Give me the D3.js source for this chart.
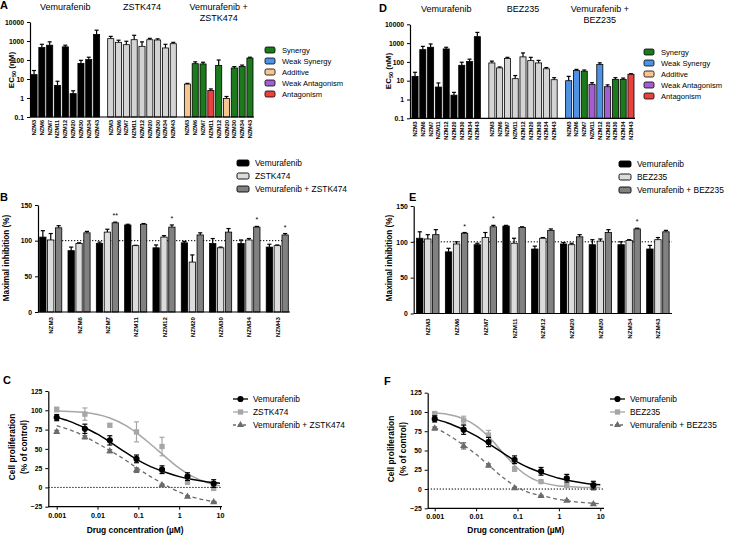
<!DOCTYPE html>
<html><head><meta charset="utf-8">
<script src="https://cdn.jsdelivr.net/npm/d3@7"></script>
<style>
body{margin:0;background:#fff}
svg{display:block}
</style></head><body>
<svg id="chart" width="734" height="538"></svg>
<script>
// ---------------- DATA ----------------
const cellLines = ["NZM3","NZM6","NZM7","NZM11","NZM12","NZM20","NZM30","NZM34","NZM43"];

// EC50 (nM) – panels A and D
const ec50Vemurafenib   = [17, 450, 600, 4.6, 490, 1.7, 66, 105, 2200];
const ec50VemurafenibSD = [11, 220, 300, 3, 110, 0.7, 30, 35, 1500];
const ec50Zstk474       = [1330, 850, 640, 1170, 525, 1170, 1130, 430, 720];
const ec50Zstk474SD     = [420, 250, 330, 830, 375, 210, 170, 240, 130];
const ec50ComboZ        = [5.4, 64, 62, 2.5, 52, 0.95, 38, 46, 127];
const ec50ComboZSD      = [0.5, 16, 14, 0.5, 48, 0.25, 7, 8, 13];
const ec50ComboZClass   = ["Additive","Synergy","Synergy","Antagonism","Synergy","Additive","Synergy","Synergy","Synergy"];
const ec50Bez235        = [88, 48, 150, 12.8, 185, 117, 88, 43, 11.3];
const ec50Bez235SD      = [22, 6, 25, 6, 115, 58, 32, 7, 3.2];
const ec50ComboB        = [10, 35, 32, 6.4, 72, 4.8, 11.8, 11.8, 22];
const ec50ComboBSD      = [7, 5, 5, 1.4, 17, 1.2, 2.7, 2, 1.5];
const ec50ComboBClass   = ["Weak Synergy","Weak Synergy","Synergy","Weak Antagonism","Weak Synergy","Weak Antagonism","Synergy","Synergy","Antagonism"];
const interactionClasses = ["Synergy","Weak Synergy","Additive","Weak Antagonism","Antagonism"];
const ec50Ticks = [0.1, 1, 10, 100, 1000, 10000];
const ec50TickLabels = ["0.1","1","10","100","1000","10000"];

// Maximal inhibition (%) – panels B and E
const miVemurafenib   = [105, 86, 96, 122, 90, 97, 96, 96, 91];
const miVemurafenibSD = [9, 5, 2, 1, 4, 2, 7, 5, 4];
const miZstk474       = [101, 96, 112, 93, 105, 70, 90, 101, 93];
const miZstk474SD     = [9, 1, 4, 0.5, 2, 10, 1, 2, 1];
const miComboZ        = [118, 111, 125, 123, 119, 108, 112, 119, 108];
const miComboZSD      = [3, 2, 1, 1, 3, 3, 5, 1, 2];
const miStarsZ        = ["", "", "**", "", "*", "", "", "*", "*"];
const miVemurafenibE  = [105, 86, 96, 122, 90, 97, 96, 96, 90];
const miVemurafenibESD= [9, 5, 2, 1, 4, 2, 7, 4, 5];
const miBez235        = [104, 97, 106, 98, 105, 96, 101, 102, 103];
const miBez235SD      = [6, 3, 7, 7, 1, 2, 3, 1, 3];
const miComboB        = [110, 112, 121, 120, 116, 107, 113, 118, 114];
const miComboBSD      = [7, 1, 2, 1, 2, 3, 4, 1, 2];
const miStarsB        = ["", "*", "*", "", "", "", "", "*", ""];
const miTicks = [0, 50, 100, 150];

// Cell proliferation (% of control) – panels C and F
const concC = [0.001, 0.0049, 0.02, 0.09, 0.38, 1.6, 7];
const concF = [0.001, 0.005, 0.02, 0.085, 0.37, 1.55, 6.8];
const cpVemurafenib   = [90.5, 76, 61, 37, 23, 14, 5];
const cpVemurafenibSD = [4, 6, 6, 5, 5, 5, 5];
const cpZstk474       = [101, 95, 80.6, 72, 53, 7, -1];
const cpZstk474SD     = [3, 8, 2, 13, 12, 3, 3];
const cpComboZ        = [72, 65, 47, 22.4, 3, -12, -19];
const cpComboZSD      = [2, 2, 2, 3, 1, 1, 1];
const cpVemurafenibF  = [91, 77, 61, 38, 23, 14, 5];
const cpBez235        = [98, 89.5, 70, 26, 9.6, 4.4, 1];
const cpBez235SD      = [2, 5, 6, 3, 1, 1, 1];
const cpComboB        = [78.6, 56, 30.6, 1, -9, -15, -19.6];
const cpComboBSD      = [2, 4, 2, 1, 1, 1, 1];
// fitted curves at these concentrations
const fitConc         = [0.001, 0.002, 0.005, 0.01, 0.02, 0.05, 0.1, 0.2, 0.5, 1, 2, 5, 10];
const fitVemurafenib  = [91, 86, 77, 69, 59, 45, 35, 27, 19, 14, 10.5, 7, 5.5];
const fitZstk474      = [99, 98.5, 97, 94.5, 90, 80, 69, 56, 38, 25, 15, 6, 2];
const fitComboZ       = [80, 75, 66, 57, 48, 35, 24, 14, 2, -6, -12, -17, -20];
const fitBez235       = [98.5, 97, 91, 82, 68, 44, 27, 15, 7, 4, 3, 2, 2];
const fitComboB       = [80, 71, 57, 45, 31, 13, 2, -5, -10, -13.5, -16, -18, -19];
const cpYTicks = [-25, 0, 25, 50, 75, 100, 125];
const cpXTicks = [0.001, 0.01, 0.1, 1, 10];
const cpXTickLabels = ["0.001","0.01","0.1","1","10"];

// ---------------- STYLE ----------------
const FF = '"Liberation Sans", Arial, Helvetica, sans-serif';
const classColor = {"Synergy":"#1c7a1c","Weak Synergy":"#4d92e3","Additive":"#f7c590","Weak Antagonism":"#a45ed2","Antagonism":"#e8423f"};
const svg = d3.select("#chart");

function styleAxis(sel, fs) {
  sel.attr("font-family", FF).attr("font-size", fs);
  sel.selectAll("path.domain").attr("stroke","#000").attr("stroke-width",1.2);
  sel.selectAll(".tick line").attr("stroke","#000").attr("stroke-width",1);
  sel.selectAll(".tick text").attr("font-weight","bold").attr("fill","#000");
}
function letter(t, x, y) {
  svg.append("text").attr("x",x).attr("y",y).attr("font-family",FF).attr("font-size",11)
    .attr("font-weight","bold").text(t);
}
function rotLabel(lines, x, yc, fs) {
  lines.forEach((l,k)=>{
    const t = svg.append("text").attr("transform",`translate(${x[k]},${yc}) rotate(-90)`)
      .attr("text-anchor","middle").attr("font-family",FF).attr("font-size",fs).attr("font-weight","bold");
    if (typeof l === "string") t.text(l);
    else l(t);
  });
}

// ---------------- EC50 PANELS ----------------
function ec50Panel(o) {
  const g = svg.append("g");
  const y = d3.scaleLog().domain([0.1,10000]).range([o.yBot,o.yTop]);
  const outer = d3.scaleBand().domain(d3.range(o.groups.length)).range([o.x0,o.x1]).paddingInner(o.gap);
  const inner = d3.scaleBand().domain(cellLines).range([0,outer.bandwidth()]).paddingInner(0.22);
  o.groups.forEach((grp,gi)=>{
    const gx = outer(gi);
    const gg = g.append("g").attr("transform",`translate(${gx},0)`);
    const rows = cellLines.map((c,i)=>({c, v:grp.values[i], sd:grp.sd[i], fill:grp.fill(i)}));
    const cx = d => inner(d.c)+inner.bandwidth()/2;
    const cw = inner.bandwidth()*0.33;
    gg.selectAll("line.ev").data(rows).join("line").attr("class","ev")
      .attr("x1",cx).attr("x2",cx).attr("y1",d=>y(d.v)).attr("y2",d=>y(d.v+d.sd))
      .attr("stroke","#000").attr("stroke-width",1.2);
    gg.selectAll("line.ec").data(rows).join("line").attr("class","ec")
      .attr("x1",d=>cx(d)-cw).attr("x2",d=>cx(d)+cw).attr("y1",d=>y(d.v+d.sd)).attr("y2",d=>y(d.v+d.sd))
      .attr("stroke","#000").attr("stroke-width",1.2);
    gg.selectAll("rect").data(rows).join("rect")
      .attr("x",d=>inner(d.c)).attr("width",inner.bandwidth())
      .attr("y",d=>y(d.v)).attr("height",d=>o.yBot-y(d.v))
      .attr("fill",d=>d.fill).attr("stroke","#000").attr("stroke-width",0.8);
    gg.selectAll("text.tl").data(cellLines).join("text").attr("class","tl")
      .attr("transform",d=>`translate(${inner(d)+inner.bandwidth()/2+2},${o.yBot+3}) rotate(-90)`)
      .attr("text-anchor","end").attr("font-size",5.6).attr("font-weight","bold")
      .attr("font-family",FF).text(d=>d);
    grp.title.forEach((t,k)=>g.append("text").attr("x",gx+outer.bandwidth()/2).attr("y",o.titleY+k*10.5)
      .attr("text-anchor","middle").attr("font-size",9).attr("font-family",FF).text(t));
  });
  const ya = g.append("g").attr("transform",`translate(${o.axisX},0)`)
    .call(d3.axisLeft(y).tickValues(ec50Ticks).tickFormat((d,i)=>ec50TickLabels[i]).tickSize(3).tickSizeOuter(0));
  styleAxis(ya, 6.8);
  g.append("line").attr("x1",o.axisX).attr("x2",o.x1+1).attr("y1",o.yBot).attr("y2",o.yBot)
    .attr("stroke","#000").attr("stroke-width",1.2);
  // legend
  const lg = g.append("g").attr("transform",`translate(${o.legendX},${o.legendY})`);
  interactionClasses.forEach((c,i)=>{
    lg.append("rect").attr("x",0).attr("y",i*11-3).attr("width",10).attr("height",6).attr("rx",1.5)
      .attr("fill",classColor[c]).attr("stroke","#000").attr("stroke-width",0.8);
    lg.append("text").attr("x",17).attr("y",i*11+3).attr("font-size",7.6).attr("font-family",FF).text(c);
  });
}

ec50Panel({x0:31, x1:253, gap:0.105, axisX:30, yTop:22, yBot:117, titleY:10, legendX:265, legendY:50,
  groups:[
    {title:["Vemurafenib"], values:ec50Vemurafenib, sd:ec50VemurafenibSD, fill:()=>"#000"},
    {title:["ZSTK474"], values:ec50Zstk474, sd:ec50Zstk474SD, fill:()=>"#d4d4d4"},
    {title:["Vemurafenib +","ZSTK474"], values:ec50ComboZ, sd:ec50ComboZSD, fill:i=>classColor[ec50ComboZClass[i]]}
  ]});
ec50Panel({x0:412, x1:634, gap:0.11, axisX:410, yTop:24.3, yBot:118.3, titleY:12, legendX:644, legendY:52,
  groups:[
    {title:["Vemurafenib"], values:ec50Vemurafenib, sd:ec50VemurafenibSD, fill:()=>"#000"},
    {title:["BEZ235"], values:ec50Bez235, sd:ec50Bez235SD, fill:()=>"#d4d4d4"},
    {title:["Vemurafenib +","BEZ235"], values:ec50ComboB, sd:ec50ComboBSD, fill:i=>classColor[ec50ComboBClass[i]]}
  ]});
letter("A", 0, 9); letter("D", 379, 12);
const ecLabel = t => { t.text("EC"); t.append("tspan").attr("font-size",5.5).attr("dy",2).text("50");
  t.append("tspan").attr("dy",-2).text(" (nM)"); };
rotLabel([ecLabel], [14], 70, 8);
rotLabel([ecLabel], [391], 71, 8);

// ---------------- MAXIMAL INHIBITION PANELS ----------------
function miPanel(o) {
  const g = svg.append("g");
  const y = d3.scaleLinear().domain([0,150]).range([o.yBot,o.yTop]);
  const outer = d3.scaleBand().domain(cellLines).range([o.x0,o.x1]).paddingInner(0.22).paddingOuter(o.po);
  const inner = d3.scaleBand().domain([0,1,2]).range([0,outer.bandwidth()]).paddingInner(0.2);
  // dotted reference at 100
  g.append("line").attr("x1",o.x0).attr("x2",o.x1).attr("y1",y(100)).attr("y2",y(100))
    .attr("stroke","#000").attr("stroke-width",1).attr("stroke-dasharray","1.3,1.7");
  const rows = [];
  cellLines.forEach((c,i)=>o.series.forEach((s,k)=>rows.push({c,k,v:s.values[i],sd:s.sd[i],fill:s.fill})));
  const bx = d => outer(d.c)+inner(d.k);
  const cx = d => bx(d)+inner.bandwidth()/2;
  const cw = inner.bandwidth()*0.33;
  g.selectAll("line.ev").data(rows).join("line").attr("class","ev")
    .attr("x1",cx).attr("x2",cx).attr("y1",d=>y(d.v)).attr("y2",d=>y(d.v+d.sd))
    .attr("stroke","#000").attr("stroke-width",1.2);
  g.selectAll("line.ec").data(rows).join("line").attr("class","ec")
    .attr("x1",d=>cx(d)-cw).attr("x2",d=>cx(d)+cw).attr("y1",d=>y(d.v+d.sd)).attr("y2",d=>y(d.v+d.sd))
    .attr("stroke","#000").attr("stroke-width",1.2);
  g.selectAll("rect.bar").data(rows).join("rect").attr("class","bar")
    .attr("x",bx).attr("width",inner.bandwidth()).attr("y",d=>y(d.v)).attr("height",d=>o.yBot-y(d.v))
    .attr("fill",d=>d.fill).attr("stroke","#000").attr("stroke-width",0.8);
  // stars
  const last = o.series[2];
  g.selectAll("text.star").data(cellLines).join("text").attr("class","star")
    .attr("x",c=>outer(c)+inner(2)+inner.bandwidth()/2)
    .attr("y",(c,i)=>y(last.values[i]+last.sd[i])-4)
    .attr("text-anchor","middle").attr("font-size",7).attr("font-family",FF)
    .text((c,i)=>o.stars[i]);
  const ya = g.append("g").attr("transform",`translate(${o.axisX},0)`)
    .call(d3.axisLeft(y).tickValues(miTicks).tickSize(3).tickSizeOuter(0));
  styleAxis(ya, 6.8);
  g.append("line").attr("x1",o.axisX).attr("x2",o.x1).attr("y1",o.yBot).attr("y2",o.yBot)
    .attr("stroke","#000").attr("stroke-width",1.2);
  g.selectAll("text.tl").data(cellLines).join("text").attr("class","tl")
    .attr("transform",c=>`translate(${outer(c)+outer.bandwidth()/2+2.5},${o.yBot+5}) rotate(-90)`)
    .attr("text-anchor","end").attr("font-size",6.2).attr("font-weight","bold").attr("font-family",FF)
    .text(c=>c);
  const lg = g.append("g").attr("transform",`translate(${o.legendX},${o.legendY})`);
  o.series.forEach((s,i)=>{
    lg.append("rect").attr("x",0).attr("y",i*13-3).attr("width",12).attr("height",6).attr("rx",1.5)
      .attr("fill",s.fill).attr("stroke","#000").attr("stroke-width",0.9);
    lg.append("text").attr("x",18).attr("y",i*13+3).attr("font-size",8.4).attr("font-family",FF).text(s.name);
  });
}
miPanel({x0:38, x1:290, po:0.06, axisX:38, yTop:205, yBot:312, legendX:237, legendY:163, stars:miStarsZ,
  series:[
    {name:"Vemurafenib", values:miVemurafenib, sd:miVemurafenibSD, fill:"#000"},
    {name:"ZSTK474", values:miZstk474, sd:miZstk474SD, fill:"#dcdcdc"},
    {name:"Vemurafenib + ZSTK474", values:miComboZ, sd:miComboZSD, fill:"#818181"}
  ]});
miPanel({x0:413.7, x1:672, po:0.1, axisX:413.7, yTop:206, yBot:313.5, legendX:619, legendY:164, stars:miStarsB,
  series:[
    {name:"Vemurafenib", values:miVemurafenibE, sd:miVemurafenibESD, fill:"#000"},
    {name:"BEZ235", values:miBez235, sd:miBez235SD, fill:"#dcdcdc"},
    {name:"Vemurafenib + BEZ235", values:miComboB, sd:miComboBSD, fill:"#818181"}
  ]});
letter("B", 0, 201); letter("E", 409, 201);
rotLabel(["Maximal inhibition (%)"], [9], 258, 8.2);
rotLabel(["Maximal inhibition (%)"], [392], 258, 8.2);

// ---------------- CELL PROLIFERATION PANELS ----------------
function cpPanel(o) {
  const g = svg.append("g");
  const x = d3.scaleLog().domain([0.001,10]).range([o.x0,o.x1]);
  const y = d3.scaleLinear().domain([-25,125]).range([o.yBot,o.yTop]);
  g.append("line").attr("x1",o.axisX).attr("x2",o.xEnd).attr("y1",y(0)).attr("y2",y(0))
    .attr("stroke","#000").attr("stroke-width",1).attr("stroke-dasharray","1.3,1.7");
  const line = d3.line().x(d=>x(d[0])).y(d=>y(d[1])).curve(d3.curveMonotoneX);
  const sym = {circle:d3.symbolCircle, square:d3.symbolSquare, triangle:d3.symbolTriangle};
  const symSize = {circle:30, square:28, triangle:22};
  o.series.slice().reverse().forEach(s=>{
    g.append("path").datum(fitConc.map((c,i)=>[c,s.fit[i]])).attr("d",line)
      .attr("fill","none").attr("stroke",s.color).attr("stroke-width",s.dash?1.3:1.5)
      .attr("stroke-dasharray",s.dash?"4,3":null);
  });
  o.series.slice().reverse().forEach(s=>{
    const pts = o.conc.map((c,i)=>({c, v:s.values[i], sd:s.sd[i]}));
    g.selectAll(null).data(pts).join("line")
      .attr("x1",d=>x(d.c)).attr("x2",d=>x(d.c)).attr("y1",d=>y(d.v-d.sd)).attr("y2",d=>y(d.v+d.sd))
      .attr("stroke",s.color).attr("stroke-width",1.2);
    [-1,1].forEach(sg=>g.selectAll(null).data(pts).join("line")
      .attr("x1",d=>x(d.c)-2.5).attr("x2",d=>x(d.c)+2.5).attr("y1",d=>y(d.v+sg*d.sd)).attr("y2",d=>y(d.v+sg*d.sd))
      .attr("stroke",s.color).attr("stroke-width",1.2));
    g.selectAll(null).data(pts).join("path")
      .attr("transform",d=>`translate(${x(d.c)},${y(d.v)})`)
      .attr("d",d3.symbol(sym[s.marker],symSize[s.marker]))
      .attr("fill",s.color);
  });
  const ya = g.append("g").attr("transform",`translate(${o.axisX},0)`)
    .call(d3.axisLeft(y).tickValues(cpYTicks).tickSize(3).tickSizeOuter(0));
  styleAxis(ya, 6.8);
  const xa = g.append("g").attr("transform",`translate(0,${o.yBot})`)
    .call(d3.axisBottom(x).tickValues(cpXTicks).tickFormat((d,i)=>cpXTickLabels[i]).tickSize(3).tickSizeOuter(0));
  styleAxis(xa, 7.2);
  xa.select("path.domain").remove();
  g.append("line").attr("x1",o.axisX).attr("x2",o.xEnd).attr("y1",o.yBot).attr("y2",o.yBot)
    .attr("stroke","#000").attr("stroke-width",1.2);
  g.append("text").attr("x",(o.axisX+o.xEnd)/2).attr("y",533).attr("text-anchor","middle")
    .attr("font-family",FF).attr("font-size",8.4).attr("font-weight","bold").text("Drug concentration (µM)");
  const lg = g.append("g").attr("transform",`translate(${o.legendX},${o.legendY})`);
  o.series.forEach((s,i)=>{
    lg.append("line").attr("x1",0).attr("x2",15).attr("y1",i*13).attr("y2",i*13)
      .attr("stroke",s.color).attr("stroke-width",1.3).attr("stroke-dasharray",s.dash?"3,2":null);
    lg.append("path").attr("transform",`translate(7.5,${i*13})`)
      .attr("d",d3.symbol(sym[s.marker],symSize[s.marker])).attr("fill",s.color);
    lg.append("text").attr("x",20).attr("y",i*13+3).attr("font-size",8.4).attr("font-family",FF).text(s.name);
  });
}
cpPanel({x0:56.7, x1:220, axisX:48.3, xEnd:222, yTop:391, yBot:506.7, legendX:233, legendY:399, conc:concC,
  series:[
    {name:"Vemurafenib", values:cpVemurafenib, sd:cpVemurafenibSD, fit:fitVemurafenib, color:"#000", marker:"circle"},
    {name:"ZSTK474", values:cpZstk474, sd:cpZstk474SD, fit:fitZstk474, color:"#a6a6a6", marker:"square"},
    {name:"Vemurafenib + ZSTK474", values:cpComboZ, sd:cpComboZSD, fit:fitComboZ, color:"#6b6b6b", marker:"triangle", dash:true}
  ]});
cpPanel({x0:434.7, x1:600.3, axisX:427.7, xEnd:604, yTop:392.7, yBot:508.3, legendX:610, legendY:399, conc:concF,
  series:[
    {name:"Vemurafenib", values:cpVemurafenibF, sd:cpVemurafenibSD, fit:fitVemurafenib, color:"#000", marker:"circle"},
    {name:"BEZ235", values:cpBez235, sd:cpBez235SD, fit:fitBez235, color:"#a6a6a6", marker:"square"},
    {name:"Vemurafenib + BEZ235", values:cpComboB, sd:cpComboBSD, fit:fitComboB, color:"#6b6b6b", marker:"triangle", dash:true}
  ]});
letter("C", 3, 384); letter("F", 384, 385);
rotLabel(["Cell proliferation","(% of control)"], [15, 27], 447, 8.4);
rotLabel(["Cell proliferation","(% of control)"], [394, 406], 449, 8.4);
</script>
</body></html>
